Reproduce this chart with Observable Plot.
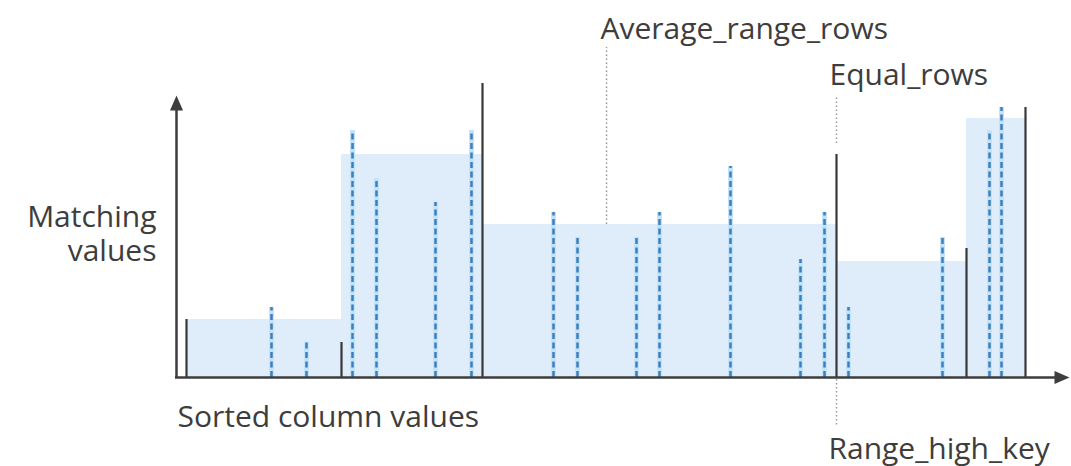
<!DOCTYPE html>
<html>
<head>
<meta charset="utf-8">
<script src="https://cdn.jsdelivr.net/npm/d3@7"></script>
<script src="https://cdn.jsdelivr.net/npm/@observablehq/plot@0.6"></script>
<style>
  html, body { margin: 0; padding: 0; background: #ffffff; }
  #chart svg { display: block; }
</style>
</head>
<body>
<div id="chart"></div>
<script>
// Histogram step boundaries (Range_high_key positions along sorted column values)
const highKeyX = [186, 341, 482, 836, 966, 1025];
// Equal_rows: matching rows at each range high key
const equalRows = [58, 35, 294, 223, 129, 270];
// Average_range_rows for each step (between consecutive high keys)
const avgRangeRows = [58, 223, 153, 116, 259];
// Distinct values inside steps (dashed) and their matching counts
const valueX = [271, 306, 352, 376, 435, 471, 553, 577, 636, 659, 730, 800, 824, 848, 942, 989, 1001];
const valueRows = [70, 35, 247, 199, 175, 247, 165, 140, 140, 165, 211, 118, 165, 70, 140, 247, 270];
// Labels
const yLabelLines = ["Matching", "values"];
const xLabel = "Sorted column values";
const avgLabel = "Average_range_rows";
const eqLabel = "Equal_rows";
const keyLabel = "Range_high_key";

const steps = avgRangeRows.map((v, i) => ({x1: highKeyX[i], x2: highKeyX[i + 1], v}));
const keys = highKeyX.map((x, i) => ({x, v: equalRows[i]}));
const vals = valueX.map((x, i) => ({x, v: valueRows[i]}));

const ink = "#3d3d3d";
const font = "'Open Sans', 'Noto Sans', sans-serif";
const fs = 30;
const arrowHead = {
  draw(ctx, size) {
    const w = 6.5, h = 15;
    ctx.moveTo(0, -h / 2);
    ctx.lineTo(w, h / 2);
    ctx.lineTo(-w, h / 2);
    ctx.closePath();
  }
};
const label = (t, x, y, anchor = "start") =>
  Plot.text([t], {x, y, text: d => d, textAnchor: anchor, lineAnchor: "bottom", fontSize: fs, fill: ink, fontFamily: font});

const chart = Plot.plot({
  width: 1071,
  height: 466,
  margin: 0,
  style: {background: "#ffffff", fontFamily: font},
  x: {type: "linear", domain: [0, 1071], range: [0, 1071], axis: null},
  y: {type: "linear", domain: [0, 377], range: [377, 0], axis: null},
  marks: [
    // steps (average range rows)
    Plot.rect(steps, {x1: "x1", x2: "x2", y1: 0, y2: "v", fill: "#deedf9"}),
    // annotation leaders
    Plot.ruleX([606], {y1: avgRangeRows[2], y2: 330, stroke: "#9a9a9a", strokeWidth: 1.5, strokeDasharray: "1.5,2.5"}),
    Plot.ruleX([highKeyX[3]], {y1: 234, y2: 281, stroke: "#9a9a9a", strokeWidth: 1.5, strokeDasharray: "1.5,2.5"}),
    Plot.ruleX([highKeyX[3]], {y1: -2, y2: -50, stroke: "#9a9a9a", strokeWidth: 1.5, strokeDasharray: "1.5,2.5"}),
    // distinct values (dashed)
    Plot.ruleX(vals, {x: "x", y1: 0, y2: "v", stroke: "#c4e2f8", strokeWidth: 5}),
    Plot.ruleX(vals, {x: "x", y1: 0, y2: "v", stroke: "#3a7fc0", strokeWidth: 2.5, strokeDasharray: "6,3.5"}),
    // range high keys (solid)
    Plot.ruleX(keys, {x: "x", y1: 0, y2: "v", stroke: "#383838", strokeWidth: 2.2}),
    // axes with arrow heads
    Plot.ruleX([176], {y1: 0, y2: 270, stroke: ink, strokeWidth: 2.5}),
    Plot.ruleY([0], {x1: 175, x2: 1058, stroke: ink, strokeWidth: 2.5}),
    Plot.dot([{x: 176, y: 274.5}], {x: "x", y: "y", symbol: arrowHead, r: 5, fill: ink, stroke: "none"}),
    Plot.dot([{x: 1061.5, y: 0}], {x: "x", y: "y", symbol: arrowHead, r: 5, fill: ink, stroke: "none", rotate: 90}),
    // texts
    label(yLabelLines[0], 156, 151, "end"),
    label(yLabelLines[1], 156, 117, "end"),
    label(xLabel, 177, -49),
    label(avgLabel, 600, 339),
    label(eqLabel, 829, 293),
    label(keyLabel, 828, -81)
  ]
});
document.getElementById("chart").appendChild(chart);
</script>
</body>
</html>
